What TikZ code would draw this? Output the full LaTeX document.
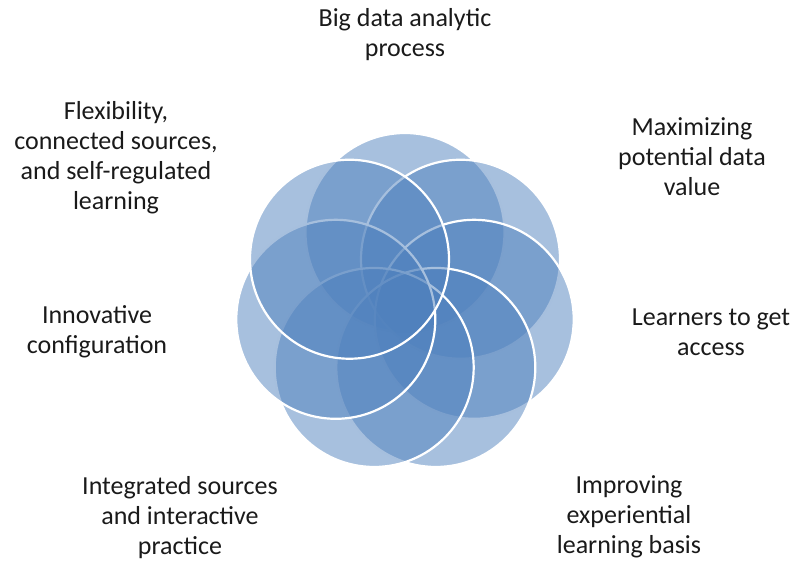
\documentclass[tikz,border=0pt]{standalone}
\usepackage{fontspec}
\setmainfont{Carlito}
\definecolor{accent}{HTML}{4F81BD}
\definecolor{txt}{HTML}{1A1A1A}
\begin{document}
\begin{tikzpicture}[x=1pt,y=-1pt,
  petal/.style={circle,minimum size=199pt,inner sep=0pt,fill=accent,fill opacity=0.5,draw=white,draw opacity=1,line width=2.2pt},
  lbl/.style={align=center,text=txt,font=\fontsize{26}{30}\selectfont,inner sep=0pt}]
\useasboundingbox (0,0) rectangle (797,562);
\foreach \i in {0,...,6}{
  \pgfmathsetmacro\ang{90-\i*360/7}
  \pgfmathsetmacro\px{405+71*cos(\ang)}
  \pgfmathsetmacro\py{303.5-71*sin(\ang)}
  \node[petal] (c\i) at (\px,\py) {};
}
\node[lbl] (t0) at (405,35) {Big data analytic\\process};
\node[lbl] (t1) at (692,157) {Maximizing\\potential data\\value};
\node[lbl] (t2) at (711,332) {Learners to get\\access};
\node[lbl] (t3) at (629,517) {Improving\\experiential\\learning basis};
\node[lbl] (t4) at (180,518) {Integrated sources\\and interactive\\practice};
\node[lbl] (t5) at (97,332) {Innovative\\configuration};
\node[lbl] (t6) at (116,158) {Flexibility,\\connected sources,\\and self-regulated\\learning};
\end{tikzpicture}
\end{document}
